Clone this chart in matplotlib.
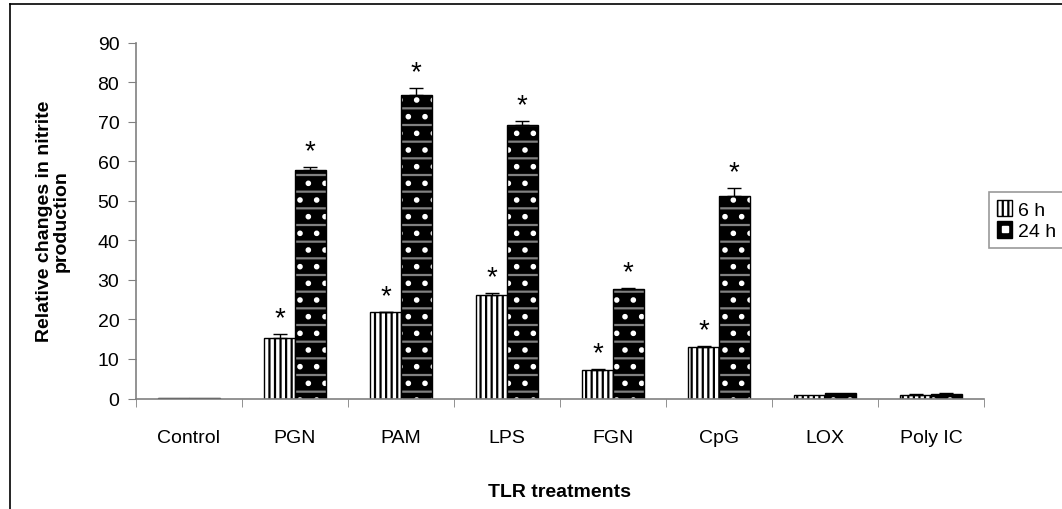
import numpy as np
import matplotlib.pyplot as plt
from matplotlib.patches import Patch
from matplotlib.lines import Line2D

plt.rcParams["font.family"] = ["Liberation Sans", "DejaVu Sans"]
plt.rcParams["hatch.linewidth"] = 1.6

categories = ["Control", "PGN", "PAM", "LPS", "FGN", "CpG", "LOX", "Poly IC"]
vals_6h = [0.15, 15.2, 21.8, 26.2, 7.2, 12.9, 0.9, 1.0]
err_6h = [0.0, 1.2, 0.1, 0.4, 0.3, 0.4, 0.0, 0.2]
vals_24h = [0.15, 57.7, 76.7, 69.2, 27.7, 51.1, 1.3, 1.1]
err_24h = [0.0, 0.9, 1.8, 0.9, 0.3, 2.2, 0.0, 0.3]
significant = [False, True, True, True, True, True, False, False]

grey = "#808080"
fs = 14

fig = plt.figure(figsize=(10.62, 5.10), dpi=100)
ax = fig.add_axes([136 / 1062, 1 - 399.5 / 510, 848 / 1062, 356 / 510])

x = np.arange(len(categories))
w = 0.29
x6 = x - w / 2
x24 = x + w / 2

# 6 h: white with vertical stripes
ax.bar(x6, vals_6h, w, facecolor="white", edgecolor="black", hatch="|||", linewidth=1, zorder=2)

# 24 h: black with grey lines and white dots
ax.bar(x24, vals_24h, w, facecolor="black", edgecolor=grey, hatch="-", linewidth=0, zorder=2)
ax.bar(x24, vals_24h, w, facecolor="none", edgecolor="white", hatch=".", linewidth=0, zorder=2)
ax.bar(x24, vals_24h, w, facecolor="none", edgecolor="black", linewidth=1, zorder=2)

for xs, v, e in [(x6, vals_6h, err_6h), (x24, vals_24h, err_24h)]:
    v = np.array(v)
    e = np.array(e)
    m = e > 0
    ax.errorbar(xs[m], v[m], yerr=[np.zeros(m.sum()), e[m]], fmt="none",
                ecolor="black", elinewidth=1, capsize=5, capthick=1, zorder=3)
    for xi, vi, ei, s in zip(xs, v, e, significant):
        if s:
            ax.annotate("*", (xi, vi + ei), xytext=(0, 2), textcoords="offset points",
                        ha="center", va="bottom", fontsize=20)

ax.set_xlim(-0.5, len(categories) - 0.5)
ax.set_ylim(0, 90)
ax.set_yticks(np.arange(0, 91, 10))
ax.set_xticks(x)
ax.set_xticklabels(categories, fontsize=fs)
ax.set_xticks(np.arange(-0.5, len(categories)), minor=True)
ax.tick_params(axis="x", which="major", length=0, pad=22)
ax.tick_params(axis="x", which="minor", length=6, color=grey, direction="out")
ax.tick_params(axis="y", length=6, color=grey, direction="out", labelsize=fs, pad=6)

for side in ["top", "right"]:
    ax.spines[side].set_visible(False)
for side in ["left", "bottom"]:
    ax.spines[side].set_color(grey)
    ax.spines[side].set_linewidth(1.2)

ax.set_ylabel("Relative changes in nitrite\nproduction", fontsize=fs, fontweight="bold",
              labelpad=20, linespacing=1.0)
fig.text(560 / 1062, 1 - 493 / 510, "TLR treatments", ha="center", va="center",
         fontsize=fs, fontweight="bold")

handles = [
    Patch(facecolor="white", edgecolor="black", hatch="|||", label="6 h"),
    (Patch(facecolor="black", edgecolor="black"),
     Line2D([], [], marker="s", color="white", markersize=4.5, linestyle="none")),
]
leg = fig.legend(handles=handles, labels=["6 h", "24 h"], loc="upper left",
                 bbox_to_anchor=(989 / 1062, 1 - 193 / 510),
                 fontsize=fs, frameon=True, fancybox=False, handlelength=0.8, handleheight=0.9,
                 handletextpad=0.3, borderpad=0.4, labelspacing=0.15, borderaxespad=0)
leg.get_frame().set_edgecolor(grey)
leg.get_frame().set_linewidth(1.2)

# chart border
fig.add_artist(Line2D([10 / 1062, 10 / 1062], [0, 1 - 5 / 510], color="black", linewidth=1.2))
fig.add_artist(Line2D([10 / 1062, 1], [1 - 5 / 510, 1 - 5 / 510], color="black", linewidth=1.2))

fig.savefig("out.png", dpi=100)
